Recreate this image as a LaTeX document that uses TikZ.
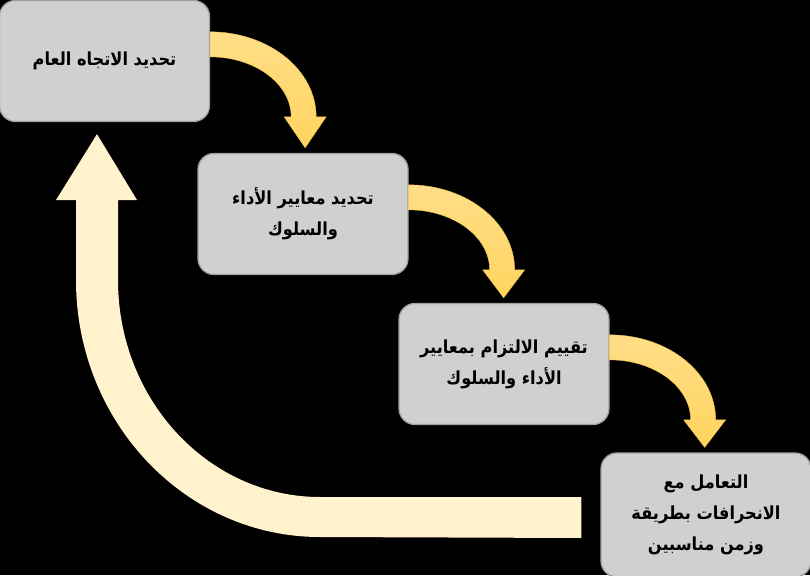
\documentclass[tikz,border=0pt]{standalone}
\usepackage{fontspec}
\usetikzlibrary{calc}
\TeXXeTstate=1
\newfontfamily\arabicfont[Script=Arabic, FakeStretch=0.9]{DejaVu Sans}
\definecolor{boxfill}{HTML}{D0D0D0}
\definecolor{boxline}{HTML}{A0A0A0}
\definecolor{arrowtop}{HTML}{FFDE88}
\definecolor{arrowbot}{HTML}{FFD45E}
\definecolor{arrowedge}{HTML}{EDBE4E}
\definecolor{creamfill}{HTML}{FFF2CC}
\tikzset{
  stepbox/.style={draw=boxline, line width=1.3pt, fill=boxfill, rounded corners=16pt,
    minimum width=210pt, minimum height=121pt, inner sep=0pt, align=center,
    font=\arabicfont\bfseries\fontsize{18}{31}\selectfont},
  flowarrow/.style={top color=arrowtop, bottom color=arrowbot, draw=arrowedge, line width=0.4pt},
  backarrow/.style={fill=creamfill, draw=none}
}
\newcommand\curvedflow[3]{% #1 source, #2 target, #3 prefix
  \coordinate (#3s) at ($(#1.north east)+(0,32)$);
  \coordinate (#3c) at ($(#3s)+(95,0)$);
  \coordinate (#3t) at ($(#3c |- #2.north)+(0,-5)$);
  \path[flowarrow] (#3s) arc[start angle=-90,end angle=0,x radius=106,y radius=85]
    -- ++(10,0) -- (#3t) -- ($(#3s)+(74,85)$) -- ($(#3s)+(81,85)$)
    arc[start angle=0,end angle=-90,x radius=81,y radius=60] -- cycle;
}
\begin{document}
\begin{tikzpicture}[x=1pt,y=-1pt]
\fill[black] (0,0) rectangle (810,575);
\useasboundingbox (0,0) rectangle (810,575);
\begin{scope}
\clip (0,0) rectangle (810,575);
\node[stepbox] (b1) at (104.5,61) {\beginR تحديد الاتجاه العام\endR};
\node[stepbox] (b2) at (303,214) {\beginR تحديد معايير الأداء\endR\\\beginR والسلوك\endR};
\node[stepbox] (b3) at (504,364) {\beginR تقييم الالتزام بمعايير\endR\\\beginR الأداء والسلوك\endR};
\node[stepbox, minimum height=124pt] (b4) at (706,515) {\beginR التعامل مع\endR\\\beginR الانحرافات بطريقة\endR\\\beginR وزمن مناسبين\endR};
\end{scope}
\curvedflow{b1}{b2}{a}
\curvedflow{b2}{b3}{b}
\curvedflow{b3}{b4}{c}
% return arrow
\coordinate (rs) at ($(b4.west)+(-19,-18)$);
\coordinate (rtip) at ($(b1.south)+(-7.5,12)$);
\path[backarrow] (rs) -- ($(rs)+(0,41)$) -- (320,537)
  arc[start angle=90,end angle=180,x radius=244,y radius=257]
  -- (76,200) -- (56,200) -- (rtip) -- (137,200) -- (118,200) -- (118,280)
  arc[start angle=180,end angle=90,x radius=202,y radius=217]
  -- cycle;
\end{tikzpicture}
\end{document}
